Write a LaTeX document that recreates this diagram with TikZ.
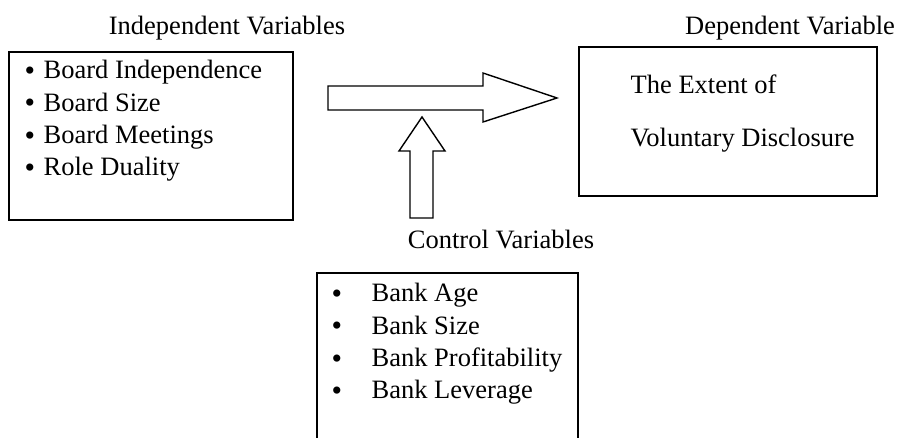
\documentclass[tikz,border=0pt]{standalone}
\usepackage{fontspec}
\setmainfont{Liberation Serif}
\newcommand{\bigbul}{{\fontsize{30}{30}\selectfont\raisebox{-1.5pt}{\textbullet}}}
\begin{document}
\begin{tikzpicture}[x=1pt,y=-1pt,line width=1.4pt,
        txt/.style={font=\fontsize{26.5}{31}\selectfont,inner sep=0pt,anchor=base},
        item/.style={txt,anchor=base west}]
        \useasboundingbox (0,0) rectangle (900,438);
        % headings
        \node[txt] (indep) at (227,35) {Independent Variables};
        \node[txt] (dep) at (790,35) {Dependent Variable};
        \node[txt] (ctrl) at (501,249) {Control Variables};
        % left box
        \draw (9,52) rectangle (293,220);
        \foreach \t [count=\i] in {Board Independence,Board Size,Board Meetings,Role Duality} {
                \node[item] (board\i) at (24,{79+(\i-1)*32.3}) {\makebox[19pt][l]{\bigbul}\t};
        }
        % right box
        \draw (579,47) rectangle (877,196);
        \node[item] (ext) at (630,94) {The Extent of};
        \node[item] (vol) at (630,147) {Voluntary Disclosure};
        % bottom box, open at the foot
        \draw (317,440) -- (317,273) -- (578,273) -- (578,440);
        \foreach \t [count=\i] in {Bank Age,Bank Size,Bank Profitability,Bank Leverage} {
                \node[item] (bank\i) at (331,{302+(\i-1)*32.3}) {\makebox[40pt][l]{\bigbul}\t};
        }
        % block arrows
        \draw (328,86) -- (483,86) -- (483,73) -- (557,98) -- (483,122) -- (483,110) -- (328,110) -- cycle;
        \draw (410,218) -- (410,151) -- (399,151) -- (422,117) -- (445,151) -- (433,151) -- (433,218) -- cycle;
\end{tikzpicture}
\end{document}
